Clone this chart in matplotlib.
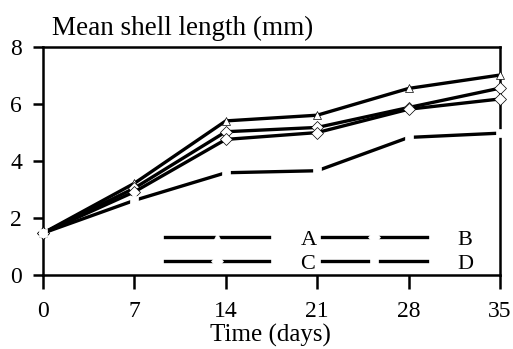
import matplotlib.pyplot as plt

plt.rcParams['font.family'] = ['Liberation Serif', 'DejaVu Serif']

# data
days = [0, 7, 14, 21, 28, 35]
series_a = [1.47, 3.22, 5.41, 5.61, 6.55, 7.02]
series_b = [1.47, 3.05, 5.03, 5.18, 5.88, 6.56]
series_c = [1.47, 2.92, 4.76, 5.00, 5.82, 6.18]
series_d = [1.47, 2.62, 3.59, 3.66, 4.83, 4.98]
labels = ["A", "B", "C", "D"]
markers = ["^", "D", "D", "s"]

fig = plt.figure(figsize=(5.13, 3.49), dpi=100)
ax = fig.add_axes([0.0838, 0.212, 0.891, 0.653])

lines = {}
for ys, lab, m in zip([series_a, series_b, series_c, series_d], labels, markers):
    ln, = ax.plot(days, ys, color="black", lw=2.4, marker=m, ms=6,
                  mfc="white", mec="black" if m != "s" else "white", mew=0.5,
                  label=lab, clip_on=False, zorder=3)
    lines[lab] = ln

ax.set_xlim(0, 35)
ax.set_ylim(0, 8)
ax.set_xticks(days)
ax.set_yticks([0, 2, 4, 6, 8])
ax.tick_params(axis="y", direction="out", length=7, width=1.8, labelsize=17, pad=8)
ax.tick_params(axis="x", direction="out", length=10, width=1.8, labelsize=17, pad=9)
for s in ax.spines.values():
    s.set_linewidth(1.8)

fig.text(0.527, 0.04, "Time (days)", fontsize=18, va="center", ha="center")
fig.text(0.101, 0.9, "Mean shell length (mm)", fontsize=19.5, va="baseline", ha="left")

# legend: row-wise A B / C D
order = ["A", "C", "B", "D"]
leg = ax.legend([lines[k] for k in order], order, ncol=2, loc="lower left",
                bbox_to_anchor=(0.267, 0.005), frameon=False, borderpad=0,
                borderaxespad=0, handlelength=4.7, handletextpad=1.4,
                columnspacing=0.25, labelspacing=0.15, fontsize=16)
for h in leg.legend_handles:
    h.set_markeredgecolor("white")

fig.savefig("out.png", dpi=100)
